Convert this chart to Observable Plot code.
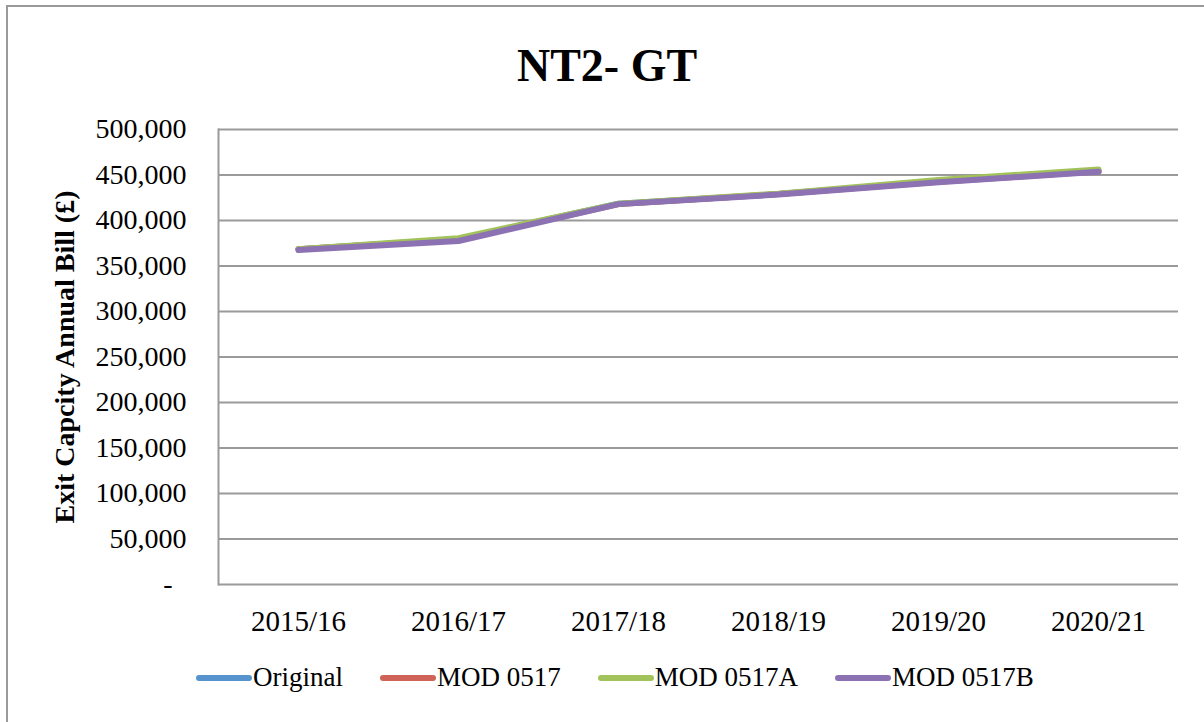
<!DOCTYPE html>
<html>
<head>
<meta charset="utf-8">
<script src="https://cdn.jsdelivr.net/npm/d3@7"></script>
<script src="https://cdn.jsdelivr.net/npm/@observablehq/plot@0.6"></script>
<style>
  html, body { margin: 0; padding: 0; background: #fff; overflow: hidden; width: 1204px; height: 722px; }
  #frame { position: absolute; left: 6px; top: 5px; width: 1400px; height: 900px; border: 2px solid #9a9a9a; box-sizing: border-box; }
  #title { position: absolute; left: 0; top: 40px; width: 1214px; text-align: center; font: bold 46px "Liberation Serif", serif; line-height: 52px; color: #000; }
  #chart { position: absolute; left: 0; top: 100px; }
  #legend { position: absolute; left: 195px; top: 662px; display: flex; align-items: center; font: 27px "Liberation Serif", serif; color: #000; white-space: nowrap; }
  .item { display: flex; align-items: center; margin-right: 36px; }
  .item svg { display: block; }
</style>
</head>
<body>
<div id="frame"></div>
<div id="title"></div>
<div id="chart"></div>
<div id="legend"></div>
<script>
const titleText = "NT2- GT";
const yLabel = "Exit Capcity Annual Bill (£)";
const years = ["2015/16", "2016/17", "2017/18", "2018/19", "2019/20", "2020/21"];
const seriesNames = ["Original", "MOD 0517", "MOD 0517A", "MOD 0517B"];
const original  = [368500, 379500, 418500, 429000, 443000, 454500];
const mod0517   = [368500, 379000, 418000, 429000, 442500, 454000];
const mod0517A  = [368500, 380500, 418500, 429500, 444500, 456000];
const mod0517B  = [367500, 377500, 418000, 428500, 442000, 453500];
const yTicks = [0, 50000, 100000, 150000, 200000, 250000, 300000, 350000, 400000, 450000, 500000];
const colors = ["#5592ce", "#cf6357", "#a1c35a", "#8d72b3"];

const seriesValues = [original, mod0517, mod0517A, mod0517B];
const rows = [];
seriesNames.forEach((s, i) => years.forEach((y, j) => rows.push({series: s, year: y, value: seriesValues[i][j]})));

document.getElementById("title").textContent = titleText;

const fmt = d3.format(",");
const chart = Plot.plot({
  width: 1204,
  height: 560,
  marginTop: 29,
  marginBottom: 76,
  marginLeft: 218,
  marginRight: 26,
  style: {fontFamily: "'Liberation Serif', serif", fontSize: "27px", color: "#000", background: "transparent", overflow: "visible"},
  x: {type: "point", domain: years, padding: 0.5},
  y: {domain: [0, 500000]},
  color: {domain: seriesNames, range: colors},
  marks: [
    Plot.ruleY(yTicks, {stroke: "#9a9a9a", strokeWidth: 2}),
    Plot.frame({anchor: "left", stroke: "#9a9a9a", strokeWidth: 2}),
    Plot.axisY({ticks: yTicks, tickSize: 0, tickPadding: 32, tickFormat: d => d === 0 ? "-\u2002" : fmt(d), label: null, fontSize: 28}),
    Plot.axisX({tickSize: 0, tickPadding: 26, label: null, fontSize: 29}),
    Plot.text([yLabel], {frameAnchor: "left", textAnchor: "middle", dx: -153, rotate: -90, fontWeight: "bold", fontSize: 28, text: d => d}),
    Plot.line(rows, {x: "year", y: "value", z: "series", stroke: "series", strokeWidth: 6, strokeLinejoin: "round", strokeLinecap: "round"})
  ]
});
document.getElementById("chart").appendChild(chart);

const legend = document.getElementById("legend");
seriesNames.forEach((s, i) => {
  const item = document.createElement("div");
  item.className = "item";
  item.innerHTML = `<svg width="58" height="12"><line x1="4" y1="6" x2="54" y2="6" stroke="${colors[i]}" stroke-width="6" stroke-linecap="round"/></svg><span></span>`;
  item.querySelector("span").textContent = s;
  legend.appendChild(item);
});
</script>
</body>
</html>
